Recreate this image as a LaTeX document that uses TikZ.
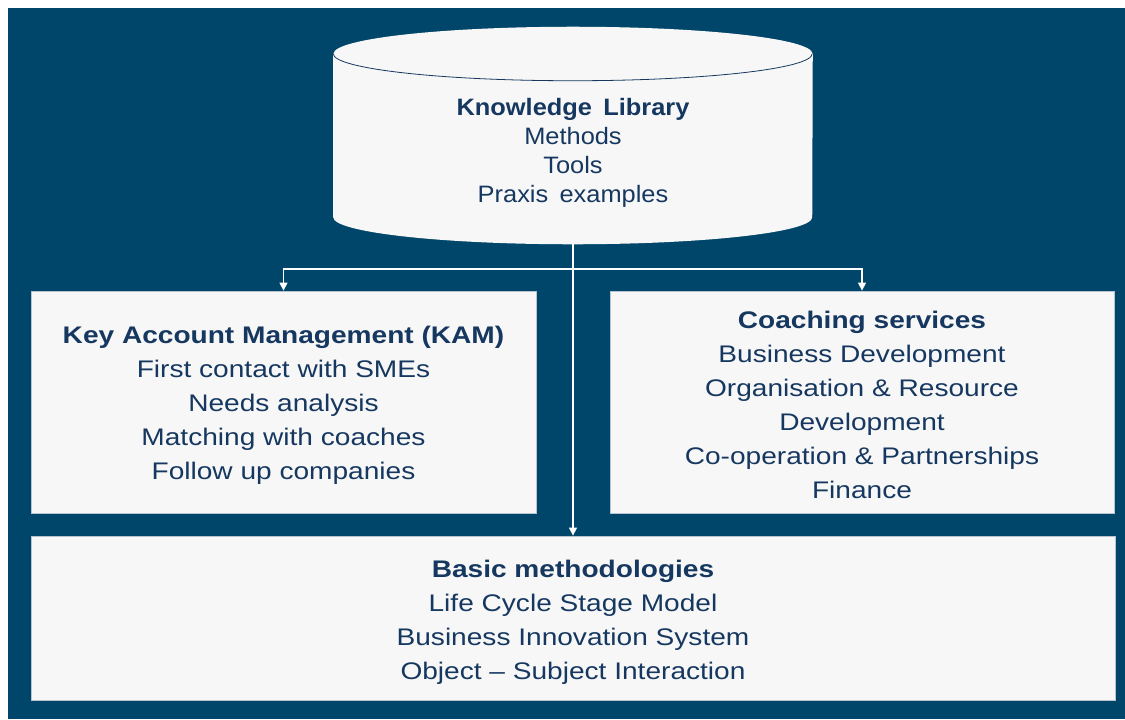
\documentclass[tikz,border=0pt]{standalone}
\usepackage{fontspec}
\setmainfont{Liberation Sans}
\newfontfamily\boxfont{Liberation Sans}[FakeStretch=1.17]
\newfontfamily\cylfont{Liberation Sans}[FakeStretch=1.07,WordSpace=1.6]
\usetikzlibrary{calc,arrows.meta}
\definecolor{bgblue}{RGB}{0,70,106}
\definecolor{txtblue}{RGB}{22,56,96}
\definecolor{boxgray}{RGB}{247,247,247}
\definecolor{edgegray}{RGB}{185,195,207}

\begin{document}
\begin{tikzpicture}
        [x=0.75pt,y=-0.75pt,
         panel/.style={rectangle,fill=boxgray,draw=edgegray,line width=0.6pt,inner sep=0pt},
         paneltext/.style={text=txtblue,align=center,inner sep=0pt,yshift=-2.5pt,
                       font=\boxfont\fontsize{18pt}{25.5pt}\selectfont},
         libtext/.style={rectangle,text=txtblue,align=center,inner sep=0pt,minimum width=359.25pt,minimum height=142.5pt,
                       font=\cylfont\fontsize{17.8pt}{21.75pt}\selectfont},
         link/.style={draw=white,line width=1pt,-{Triangle[length=6pt,width=6pt]}}]
        \useasboundingbox (0,0) rectangle (1125,719);
        \fill[white] (0,0) rectangle (1125,719);
        \fill[bgblue] (8,8) rectangle (1125,719);
        % knowledge library
        \node (lib) at (573,149) [libtext] {};
        \fill[boxgray] (lib.north west) -- ($(lib.south west)+(0,-27)$)
              arc[start angle=180,end angle=0,x radius=239.5,y radius=27] -- (lib.north east) -- cycle;
        \fill[boxgray] (lib.north) ellipse[x radius=239.5,y radius=27];
        \draw[txtblue,line width=0.6pt] (lib.north west) arc[start angle=180,end angle=0,x radius=239.5,y radius=27];
        \node at ([yshift=-3pt]lib.center) [libtext] {\textbf{Knowledge Library}\\Methods\\Tools\\Praxis examples};
        % boxes
        \node (kam) at (283.5,402) [panel,minimum width=378.75pt,minimum height=166.5pt] {};
        \node (coach) at (862,402) [panel,minimum width=378pt,minimum height=166.5pt] {};
        \node (bm) at (573,618) [panel,minimum width=813pt,minimum height=123pt] {};
        \node at (kam.center) [paneltext]
              {\textbf{Key Account Management (KAM)}\\First contact with SMEs\\Needs analysis\\Matching with coaches\\Follow up companies};
        \node at (coach.center) [paneltext]
              {\textbf{Coaching services}\\Business Development\\Organisation \& Resource\\Development\\Co-operation \& Partnerships\\Finance};
        \node at (bm.center) [paneltext,yshift=-1pt]
              {\textbf{Basic methodologies}\\Life Cycle Stage Model\\Business Innovation System\\Object \textendash{} Subject Interaction};
        % links
        \coordinate (split) at (573,269);
        \draw[link] (lib.south) -- (bm.north);
        \draw[link] (split) -| (kam.north);
        \draw[link] (split) -| (coach.north);
\end{tikzpicture}
\end{document}
